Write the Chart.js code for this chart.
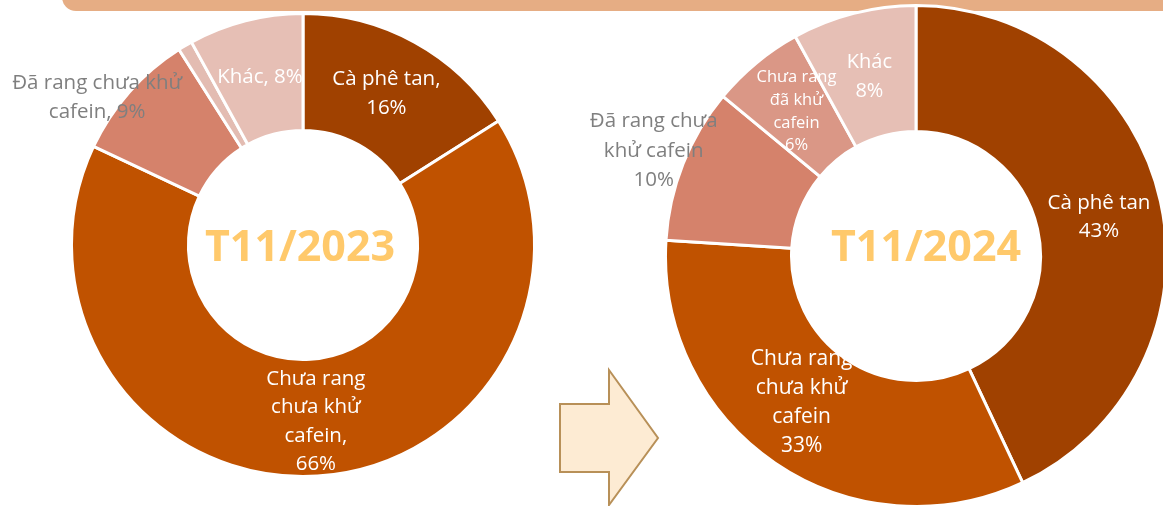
<!DOCTYPE html>
<html>
<head>
<meta charset="utf-8">
<script src="https://cdn.jsdelivr.net/npm/chart.js@4.4.1/dist/chart.umd.min.js"></script>
<style>
    html, body { margin: 0; padding: 0; background: #fff; overflow: hidden; width: 1163px; height: 506px; }
    #band { position: absolute; left: 62px; top: -30px; width: 1200px; height: 41px; background: #e6ad84; border-radius: 14px; }
    #arrow { position: absolute; left: 0; top: 0; }
    #c2023 { position: absolute; left: 0; top: 0; width: 606px; height: 490px; }
    #c2024 { position: absolute; left: 560px; top: 1px; width: 611px; height: 510px; }
</style>
</head>
<body>
<div id="band"></div>
<svg id="arrow" width="1163" height="506">
    <polygon points="560,404 609,404 609,370 658,438 609,505 609,472 560,472"
             fill="#fdebd3" stroke="#b89058" stroke-width="2"/>
</svg>
<canvas id="c2023" width="606" height="490"></canvas>
<canvas id="c2024" width="611" height="510"></canvas>
<script>
// ── Data ─────────────────────────────────────────────
const categories = ['Cà phê tan', 'Chưa rang chưa khử cafein', 'Đã rang chưa khử cafein', 'Chưa rang đã khử cafein', 'Khác'];
const share2023 = [16, 66, 9, 1, 8];
const share2024 = [43, 33, 10, 6, 8];

// label lines, {v} is replaced by the value
const lines2023 = [
    ['Cà phê tan,', '{v}%'],
    ['Chưa rang', 'chưa khử', 'cafein,', '{v}%'],
    ['Đã rang chưa khử', 'cafein, {v}%'],
    null,
    ['Khác, {v}%'],
];
const lines2024 = [
    ['Cà phê tan', '{v}%'],
    ['Chưa rang', 'chưa khử', 'cafein', '{v}%'],
    ['Đã rang chưa', 'khử cafein', '{v}%'],
    ['Chưa rang', 'đã khử', 'cafein', '{v}%'],
    ['Khác', '{v}%'],
];

const WHITE = '#ffffff';
const GREY = '#7f7f7f';
const FONT = '"Open Sans", sans-serif';

// ── Label plugin ─────────────────────────────────────
function labelPlugin(cfg) {
    return {
        id: 'arcLabels',
        afterDatasetsDraw(chart) {
            const ctx = chart.ctx;
            const meta = chart.getDatasetMeta(0);
            const values = chart.data.datasets[0].data;
            ctx.save();
            ctx.textAlign = 'center';
            ctx.textBaseline = 'middle';
            meta.data.forEach((arc, i) => {
                const lines = cfg.lines[i];
                if (!lines) return;
                const p = arc.getProps(['x', 'y', 'startAngle', 'endAngle', 'innerRadius', 'outerRadius'], true);
                const a = (p.startAngle + p.endAngle) / 2;
                const r = (p.innerRadius + p.outerRadius) / 2;
                const [dx, dy] = cfg.offsets[i];
                const cx = p.x + Math.cos(a) * r + dx;
                const cy = p.y + Math.sin(a) * r + dy;
                const lh = cfg.lineHeights[i];
                ctx.font = `${cfg.sizes[i]}px ${FONT}`;
                ctx.fillStyle = cfg.colors[i];
                lines.forEach((t, k) => {
                    ctx.fillText(t.replace('{v}', values[i]), cx, cy + (k - (lines.length - 1) / 2) * lh);
                });
            });
            // year in the hole
            const c = meta.data[0];
            ctx.font = `bold 43px ${FONT}`;
            ctx.fillStyle = '#ffc96b';
            ctx.fillText(cfg.title, c.x + cfg.titleOffset[0], c.y + cfg.titleOffset[1]);
            ctx.restore();
        },
    };
}

function makeDonut(id, values, colors, radius, cutout, padLeft, cfg) {
    return new Chart(document.getElementById(id), {
        type: 'doughnut',
        data: {
            labels: categories,
            datasets: [{
                data: values,
                backgroundColor: colors,
                borderColor: '#ffffff',
                borderWidth: 3,
                hoverOffset: 0,
            }],
        },
        options: {
            responsive: false,
            animation: false,
            events: [],
            radius: radius,
            cutout: cutout,
            layout: { padding: { left: padLeft, right: 0, top: 0, bottom: 0 } },
            plugins: {
                legend: { display: false },
                tooltip: { enabled: false },
            },
        },
        plugins: [labelPlugin(cfg)],
    });
}

// ── T11/2023 ─────────────────────────────────────────
makeDonut('c2023', share2023,
    ['#a04100', '#c05200', '#d5826b', '#e3bcb2', '#e6bfb5'],
    231.5, '49.5%', 0, {
        title: 'T11/2023',
        titleOffset: [-3, 4],
        lines: lines2023,
        offsets: [[0, 0], [2, 4], [-76, -33], [0, 0], [0, 0]],
        sizes: [20.5, 20.5, 20.5, 20.5, 20.5],
        lineHeights: [29, 28.5, 29, 29, 29],
        colors: [WHITE, WHITE, GREY, WHITE, WHITE],
    });

// ── T11/2024 ─────────────────────────────────────────
makeDonut('c2024', share2024,
    ['#a04100', '#c05200', '#d5826b', '#da9786', '#e6bfb5'],
    250.5, '49.7%', 101, {
        title: 'T11/2024',
        titleOffset: [10, -7],
        lines: lines2024,
        offsets: [[0, 2], [-9, -9], [-88, -36], [0, 0], [0, 2]],
        sizes: [20.5, 21, 20.5, 16.5, 20],
        lineHeights: [28, 29, 29.5, 22.7, 29],
        colors: [WHITE, WHITE, GREY, WHITE, WHITE],
    });
</script>
</body>
</html>
